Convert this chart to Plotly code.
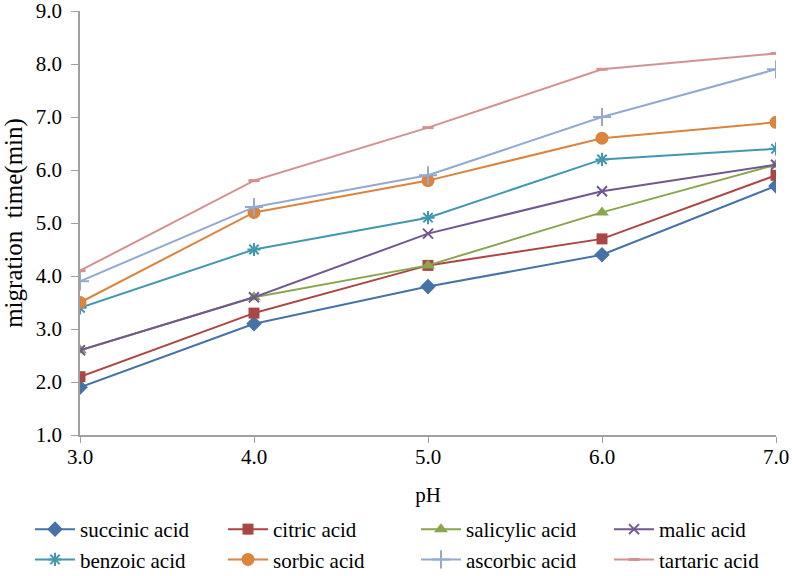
import plotly.graph_objects as go

ph = [3.0, 4.0, 5.0, 6.0, 7.0]
ph_labels = ["3.0", "4.0", "5.0", "6.0", "7.0"]
y_ticks = [1.0, 2.0, 3.0, 4.0, 5.0, 6.0, 7.0, 8.0, 9.0]
succinic = [1.9, 3.1, 3.8, 4.4, 5.7]
citric = [2.1, 3.3, 4.2, 4.7, 5.9]
salicylic = [2.6, 3.6, 4.2, 5.2, 6.1]
malic = [2.6, 3.6, 4.8, 5.6, 6.1]
benzoic = [3.4, 4.5, 5.1, 6.2, 6.4]
sorbic = [3.5, 5.2, 5.8, 6.6, 6.9]
ascorbic = [3.9, 5.3, 5.9, 7.0, 7.9]
tartaric = [4.1, 5.8, 6.8, 7.9, 8.2]

series = [
    ("succinic acid", succinic, "#4572A7", "diamond", 12),
    ("citric acid", citric, "#AA4643", "square", 11),
    ("salicylic acid", salicylic, "#89A54E", "triangle-up", 12),
    ("malic acid", malic, "#71588F", "x-thin", 10),
    ("benzoic acid", benzoic, "#4198AF", "asterisk", 11),
    ("sorbic acid", sorbic, "#DB843D", "circle", 13),
    ("ascorbic acid", ascorbic, "#93A9CF", "cross-thin", 13),
    ("tartaric acid", tartaric, "#D19392", "line-ew", 8),
]

font = "Liberation Serif"
plot_top, plot_bottom = 11, 435
plot_h = plot_bottom - plot_top

fig = go.Figure()
for name, vals, col, sym, sz in series:
    thin = sym in ("x-thin", "asterisk", "cross-thin", "line-ew")
    fig.add_trace(go.Scatter(
        x=ph, y=vals, name=name, mode="lines+markers",
        line=dict(color=col, width=2),
        marker=dict(symbol=sym, size=sz, color=col,
                    line=dict(color=col, width=(3 if sym == "line-ew" else 2) if thin else 0)),
    ))

fig.update_layout(
    width=792, height=576,
    margin=dict(l=80, r=16, t=plot_top, b=576 - plot_bottom, autoexpand=False),
    plot_bgcolor="white", paper_bgcolor="white",
    font=dict(family=font, size=21, color="black"),
    showlegend=True,
    legend=dict(orientation="h", xref="paper", yref="paper",
                x=(30 - 80) / 696, y=-(509 - plot_bottom) / plot_h,
                xanchor="left", yanchor="top",
                entrywidth=138, entrywidthmode="pixels", itemwidth=40,
                font=dict(family=font, size=21, color="black"),
                bgcolor="rgba(0,0,0,0)", borderwidth=0),
    xaxis=dict(range=[3.0, 7.0], tickvals=ph, ticktext=ph_labels,
               showgrid=False, zeroline=False, showline=True, linecolor="#A0A0A0", linewidth=1.5,
               ticks="outside", tickcolor="#A0A0A0", ticklen=6, ticklabelstandoff=-4,
               tickfont=dict(family=font, size=21), ticklabeloverflow="allow",
               title=dict(text="pH", font=dict(family=font, size=21), standoff=19)),
    yaxis=dict(range=[1.0, 9.0], tickvals=y_ticks, tickformat=".1f",
               showgrid=False, zeroline=False, showline=True, linecolor="#A0A0A0", linewidth=1.5,
               ticks="outside", tickcolor="#A0A0A0", ticklen=7, ticklabelstandoff=5,
               tickfont=dict(family=font, size=21), ticklabeloverflow="allow",
               title=dict(text="migration\u00a0 time(min)", font=dict(family=font, size=25), standoff=6)),
)
fig.write_html("out.html", config={"displayModeBar": False},
               post_script="document.body.style.margin='0';document.body.style.padding='0';")
